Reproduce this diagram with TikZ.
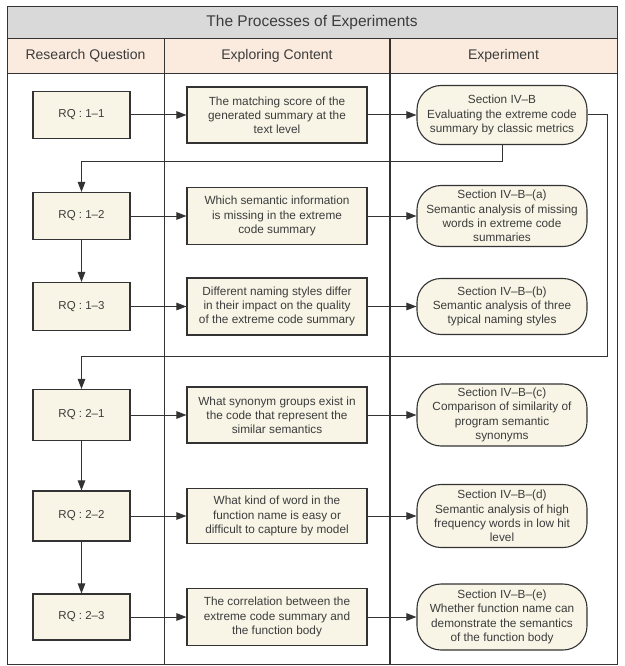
\documentclass[tikz,border=0pt]{standalone}
\usepackage{fontspec}
\setmainfont{Liberation Sans}
\usetikzlibrary{arrows.meta}
\definecolor{boxfill}{RGB}{248,245,230}
\definecolor{titlegray}{RGB}{217,217,217}
\definecolor{headpeach}{RGB}{250,235,222}
\definecolor{ink}{RGB}{51,51,51}
\definecolor{txt}{RGB}{60,60,60}
\begin{document}
\begin{tikzpicture}[x=1pt,y=-1pt,
  every node/.style={text=txt},
  rqbox/.style={draw=ink, line width=1.1pt, fill=boxfill, minimum width=97pt, inner sep=0pt, font=\fontsize{11.5}{14}\selectfont},
  cbox/.style={draw=ink, line width=1.1pt, fill=boxfill, minimum width=180pt, inner sep=0pt, align=center, font=\fontsize{11.8}{14.2}\selectfont},
  ebox/.style={draw=ink, line width=1.1pt, fill=boxfill, rounded corners=24pt, minimum width=170pt, inner sep=0pt, align=center, font=\fontsize{11.8}{14.2}\selectfont},
  headtext/.style={font=\fontsize{14}{16}\selectfont},
  link/.style={draw=ink, line width=1pt, -{Triangle[length=10pt,width=7.5pt]}},
  rule/.style={draw=ink, line width=0.9pt}
]
\useasboundingbox (0,0) rectangle (624,666);
% frame and bands
\fill[titlegray] (7,6) rectangle (617,38);
\fill[headpeach] (7,38) rectangle (617,73);
\draw[rule] (7,38) -- (617,38);
\draw[rule] (7,73) -- (617,73);
\draw[rule] (164,38) -- (164,664.5);
\draw[rule, line width=1.4pt] (390,38) -- (390,664.5);
\draw[rule] (7,6) rectangle (617,664.5);
% headers
\node[font=\fontsize{15.5}{18}\selectfont] (title) at (312,22.5) {The Processes of Experiments};
\node[headtext] (hrq) at (85.5,55.5) {Research Question};
\node[headtext] (hec) at (277,55.5) {Exploring Content};
\node[headtext] (hex) at (503.5,55.5) {Experiment};
% row 1
\node[rqbox, minimum height=47pt] (rq11) at (81.5,115) {RQ : 1–1};
\node[cbox, minimum height=56pt] (c1) at (277,115) {The matching score of the\\generated summary at the\\text level};
\node[ebox, minimum height=59pt] (e1) at (502,115) {Section IV–B\\Evaluating the extreme code\\summary by classic metrics};
% row 2
\node[rqbox, minimum height=47pt] (rq12) at (81.5,216) {RQ : 1–2};
\node[cbox, minimum height=57pt] (c2) at (277,216) {Which semantic information\\is missing in the extreme\\code summary};
\node[ebox, minimum height=61pt] (e2) at (502,216) {Section IV–B–(a)\\Semantic analysis of missing\\words in extreme code\\summaries};
% row 3
\node[rqbox, minimum height=48pt] (rq13) at (81.5,306.5) {RQ : 1–3};
\node[cbox, minimum height=57pt] (c3) at (277,306.5) {Different naming styles differ\\in their impact on the quality\\of the extreme code summary};
\node[ebox, minimum height=56pt] (e3) at (502,306.5) {Section IV–B–(b)\\Semantic analysis of three\\typical naming styles};
% row 4
\node[rqbox, minimum height=51pt] (rq21) at (81.5,415) {RQ : 2–1};
\node[cbox, minimum height=56pt] (c4) at (277,415) {What synonym groups exist in\\the code that represent the\\similar semantics};
\node[ebox, minimum height=62pt] (e4) at (502,415) {Section IV–B–(c)\\Comparison of similarity of\\program semantic\\synonyms};
% row 5
\node[rqbox, minimum height=50pt] (rq22) at (81.5,516) {RQ : 2–2};
\node[cbox, minimum height=55pt] (c5) at (277,516) {What kind of word in the\\function name is easy or\\difficult to capture by model};
\node[ebox, minimum height=63pt] (e5) at (502,516) {Section IV–B–(d)\\Semantic analysis of high\\frequency words in low hit\\level};
% row 6
\node[rqbox, minimum height=46pt] (rq23) at (81.5,617) {RQ : 2–3};
\node[cbox, minimum height=57pt] (c6) at (277,617) {The correlation between the\\extreme code summary and\\the function body};
\node[ebox, minimum height=66pt] (e6) at (502,617) {Section IV–B–(e)\\Whether function name can\\demonstrate the semantics\\of the function body};
% horizontal arrows
\foreach \r/\c/\e in {rq11/c1/e1, rq12/c2/e2, rq13/c3/e3, rq21/c4/e4, rq22/c5/e5, rq23/c6/e6}{
  \draw[link] (\r.east) -- (\c.west);
  \draw[link] (\c.east) -- (\e.west);
}
% vertical arrows
\draw[link] (rq12.south) -- (rq13.north);
\draw[link] (rq21.south) -- (rq22.north);
\draw[link] (rq22.south) -- (rq23.north);
% loops
\coordinate (j1) at (0,161);
\coordinate (j2) at (607,356);
\draw[link] (e1.south) -- (e1.south |- j1) -| (rq12.north);
\draw[link] (e1.east) -| (j2) -| (rq21.north);
\end{tikzpicture}
\end{document}
